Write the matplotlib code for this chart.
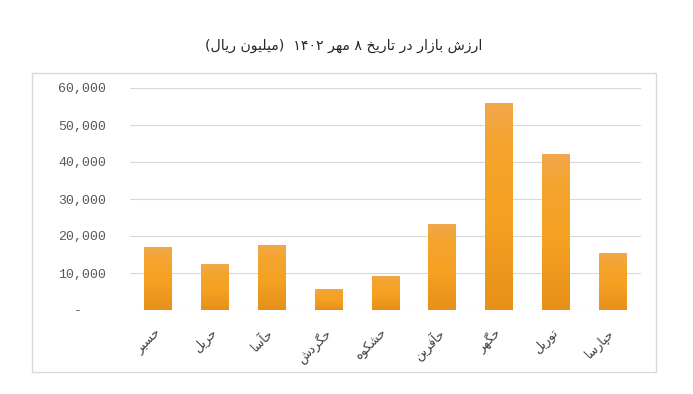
import re
import numpy as np
import matplotlib
matplotlib.use('Agg')
import matplotlib.pyplot as plt
from matplotlib.colors import LinearSegmentedColormap
from matplotlib.patches import Rectangle
from matplotlib.ticker import FuncFormatter

# data
symbols = ['حسیر', 'حریل', 'حآسا', 'حگردش', 'حشکوه', 'حآفرین', 'حگهر', 'توریل', 'حپارسا']
market_value = [17000, 12400, 17600, 5700, 9200, 23200, 56000, 42200, 15400]
title = 'ارزش بازار در تاریخ ۸ مهر ۱۴۰۲  (میلیون ریال)'
yticks = [0, 10000, 20000, 30000, 40000, 50000, 60000]

# minimal arabic/persian shaping (matplotlib has no complex text layout)
DUAL = {'ب': 0xFE8F, 'ت': 0xFE95, 'ث': 0xFE99, 'ج': 0xFE9D, 'ح': 0xFEA1, 'خ': 0xFEA5,
        'س': 0xFEB1, 'ش': 0xFEB5, 'ص': 0xFEB9, 'ض': 0xFEBD, 'ط': 0xFEC1, 'ظ': 0xFEC5,
        'ع': 0xFEC9, 'غ': 0xFECD, 'ف': 0xFED1, 'ق': 0xFED5, 'ل': 0xFEDD, 'م': 0xFEE1,
        'ن': 0xFEE5, 'ه': 0xFEE9, 'ی': 0xFBFC, 'ک': 0xFB8E, 'گ': 0xFB92, 'چ': 0xFB7A,
        'پ': 0xFB56}
RIGHT = {'ا': 0xFE8D, 'آ': 0xFE81, 'د': 0xFEA9, 'ذ': 0xFEAB, 'ر': 0xFEAD, 'ز': 0xFEAF,
         'ژ': 0xFB8A, 'و': 0xFEED}


def shape(text):
    out = []
    for i, ch in enumerate(text):
        base = DUAL.get(ch, RIGHT.get(ch))
        if base is None:
            out.append(ch)
            continue
        prev = text[i - 1] if i > 0 else ''
        nxt = text[i + 1] if i + 1 < len(text) else ''
        jp = prev in DUAL
        jn = ch in DUAL and (nxt in DUAL or nxt in RIGHT)
        if jp and jn:
            k = 3
        elif jp:
            k = 1
        elif jn:
            k = 2
        else:
            k = 0
        out.append(chr(base + k))
    s = ''.join(out)
    toks = re.findall(r'[0-9\u06F0-\u06F9]+|.', s)
    vis = ''.join(toks[::-1])
    return vis.translate(str.maketrans('()', ')('))


W, H = 693, 394
fig = plt.figure(figsize=(W / 100, H / 100), dpi=100)

# outer chart frame
fig.patches.append(Rectangle((32 / W, 1 - 372 / H), 624 / W, 299 / H, transform=fig.transFigure,
                             fill=False, edgecolor='#D9D9D9', linewidth=1))
fig.text(344 / W, 1 - 46 / H, shape(title), ha='center', va='center',
         fontsize=10.2, color='#262626', family='DejaVu Sans')

ax = fig.add_axes([130 / W, 1 - 310 / H, 511 / W, 222 / H])
x = np.arange(len(symbols))
bars = ax.bar(x, market_value, width=0.49, color='#F4A124', zorder=2)

# vertical gradient on each bar
cmap = LinearSegmentedColormap.from_list(
    'org', [(0, '#E6901A'), (0.45, '#F5A122'), (0.8, '#F4A42E'), (1, '#F1A84C')])
grad = np.linspace(0, 1, 256).reshape(-1, 1)
for b in bars:
    bx, by = b.get_x(), b.get_y()
    im = ax.imshow(grad, cmap=cmap, origin='lower', aspect='auto', zorder=3,
                   extent=[bx, bx + b.get_width(), by, by + b.get_height()])
    im.set_clip_path(b)

ax.set_xlim(-0.5, len(symbols) - 0.5)
ax.set_ylim(0, 60000)
ax.set_yticks(yticks)
ax.yaxis.set_major_formatter(FuncFormatter(lambda v, p: '-   ' if v == 0 else f'{v:,.0f}'))
ax.grid(axis='y', color='#D9D9D9', linewidth=0.8, zorder=0)
for s in ax.spines.values():
    s.set_visible(False)
ax.tick_params(axis='y', length=0, pad=17, labelsize=9.5, labelcolor='#595959')
for lab in ax.get_yticklabels():
    lab.set_family('Liberation Mono')

ax.set_xticks(x)
ax.set_xticklabels([shape(s) for s in symbols], rotation=45, ha='right', va='center',
                   rotation_mode='anchor', fontsize=9, color='#404040', family='DejaVu Sans')
ax.tick_params(axis='x', length=0, pad=15)

fig.savefig('out.png', dpi=100)
